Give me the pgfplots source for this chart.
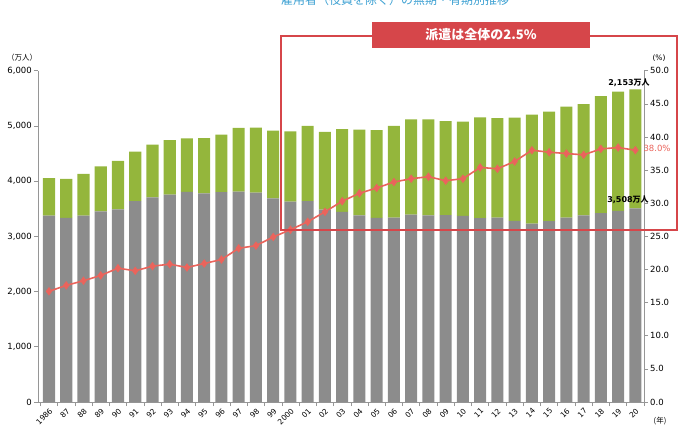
\documentclass[border=0pt]{standalone}
\usepackage{fontspec}
\setmainfont{DejaVu Sans}
\newfontfamily\jp{Noto Sans CJK JP}
\usepackage{pgfplots}
\usepackage{pgfplotstable}
\pgfplotsset{compat=1.18}
\definecolor{reggray}{RGB}{140,140,140}
\definecolor{nongreen}{RGB}{148,182,60}
\definecolor{linered}{RGB}{234,100,92}
\definecolor{framered}{RGB}{214,70,74}
\definecolor{axisgray}{RGB}{150,150,150}
\definecolor{titleblue}{RGB}{60,160,210}
\pgfplotstableread{
x reg non pct
0 3375 678 16.7
1 3335 707 17.6
2 3377 755 18.3
3 3452 817 19.1
4 3488 881 20.2
5 3639 897 19.8
6 3705 958 20.5
7 3756 986 20.8
8 3805 971 20.3
9 3779 1001 20.9
10 3800 1043 21.5
11 3812 1152 23.2
12 3794 1173 23.6
13 3688 1225 24.9
14 3630 1273 26.0
15 3640 1360 27.2
16 3486 1406 28.7
17 3444 1496 30.3
18 3380 1555 31.5
19 3333 1591 32.3
20 3340 1663 33.2
21 3393 1726 33.7
22 3380 1737 34.0
23 3386 1699 33.4
24 3370 1710 33.7
25 3330 1825 35.4
26 3337 1805 35.2
27 3281 1870 36.3
28 3230 1975 38.0
29 3275 1985 37.7
30 3340 2010 37.5
31 3380 2015 37.3
32 3420 2120 38.2
33 3460 2160 38.4
34 3508 2153 38.0
}\data
\begin{document}
\begin{tikzpicture}[x=1pt,y=1pt]
\useasboundingbox (0,0) rectangle (680,437);
\clip (0,0) rectangle (680,437);
\begin{axis}[
  at={(38pt,35pt)}, anchor=south west, scale only axis,
  width=606pt, height=331.3pt,
  xmin=-0.637, xmax=34.5, ymin=0, ymax=6000,
  ybar stacked, bar width=0.7,
  axis x line*=bottom, axis y line*=left,
  axis line style={-, draw=axisgray, line width=0.7pt},
  tick style={draw=axisgray, line width=0.6pt},
  tick align=outside, major tick length=4pt,
  ytick={0,1000,...,6000},
  /pgf/number format/1000 sep={,},
  /pgf/number format/assume math mode=true,
  yticklabel style={font=\fontsize{8.5}{10}\selectfont, inner sep=2pt},
  xtick={-0.5,0.5,...,34.5},
  x tick label as interval,
  xticklabels={1986,87,88,89,90,91,92,93,94,95,96,97,98,99,2000,01,02,03,04,05,06,07,08,09,10,11,12,13,14,15,16,17,18,19,20},
  xticklabel style={font=\fontsize{7.5}{9}\selectfont, rotate=45, anchor=north east, inner sep=1pt},
]
\addplot[fill=reggray, draw=none] table[x=x, y=reg]{\data};
\addplot[fill=nongreen, draw=none] table[x=x, y=non]{\data};
\end{axis}
\begin{axis}[
  at={(38pt,35pt)}, anchor=south west, scale only axis,
  width=606pt, height=331.3pt,
  xmin=-0.637, xmax=34.5, ymin=0, ymax=50,
  axis y line*=right, axis x line=none,
  axis line style={-, draw=axisgray, line width=0.7pt},
  tick style={draw=axisgray, line width=0.6pt},
  tick align=outside, major tick length=4pt,
  ytick={0,5,...,50},
  /pgf/number format/assume math mode=true,
  yticklabel style={font=\fontsize{8.5}{10}\selectfont, /pgf/number format/fixed, /pgf/number format/fixed zerofill, /pgf/number format/precision=1, inner sep=2pt},
]
\addplot[color=linered, line width=1.6pt, mark=diamond*, mark size=3pt, mark options={fill=linered, draw=linered}] table[x=x, y=pct]{\data};
\end{axis}
\node[font=\jp\fontsize{7.5}{9}\selectfont] at (22,379) {（万人）};
\node[font=\fontsize{7.5}{9}\selectfont] at (659,379) {(\%)};
\node[font=\jp\fontsize{7.5}{9}\selectfont] at (660,16) {(年)};
\node[font=\bfseries\fontsize{8}{10}\selectfont, inner sep=0pt] at (629,354) {2,153{\jp 万人}};
\node[font=\bfseries\fontsize{8}{10}\selectfont, inner sep=0pt] at (628,237) {3,508{\jp 万人}};
\node[font=\fontsize{8.5}{10}\selectfont, text=linered, inner sep=0pt] at (657,289) {38.0\%};
\draw[framered, line width=2.5pt] (281,401) rectangle (677,207);
\node[fill=framered, text=white, minimum width=218pt, minimum height=26pt, font=\jp\bfseries\fontsize{13}{15}\selectfont] at (481,402) {派遣は全体の2.5\%};
\node[text=titleblue, anchor=base, font=\jp\fontsize{12}{14}\selectfont] at (395,432) {雇用者（役員を除く）の無期・有期別推移};
\end{tikzpicture}
\end{document}
